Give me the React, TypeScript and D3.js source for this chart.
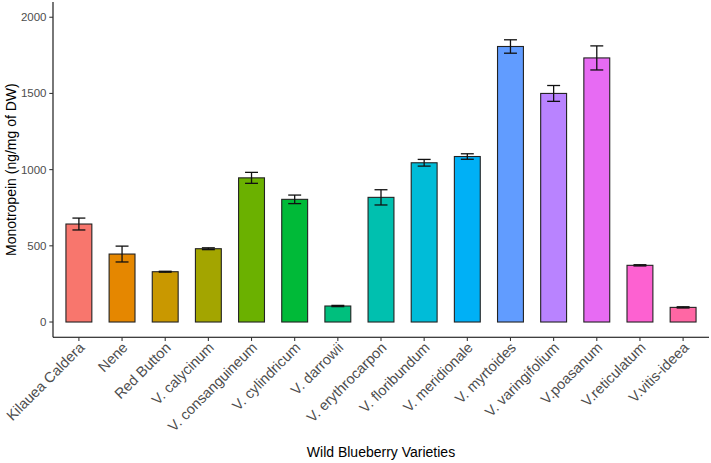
import React from "react";
import * as d3 from "d3";

const varieties = [
  "Kilauea Caldera", "Nene", "Red Button", "V. calycinum", "V. consanguineum",
  "V. cylindricum", "V. darrowii", "V. erythrocarpon", "V. floribundum", "V. meridionale",
  "V. myrtoides", "V. varingifolium", "V.poasanum", "V.reticulatum", "V.vitis-ideea"
];
const means = [643, 446, 330, 481, 946, 805, 105, 818, 1045, 1086, 1808, 1500, 1733, 372, 96];
const errors = [39, 52, 3, 6, 36, 28, 4, 50, 22, 18, 44, 52, 79, 4, 4];
const yTicks = [0, 500, 1000, 1500, 2000];
const colors = [
  "#F8766D", "#E58700", "#C99800", "#A3A500", "#6BB100", "#00BA38", "#00BF7D", "#00C0AF",
  "#00BCD8", "#00B0F6", "#619CFF", "#B983FF", "#E76BF3", "#FD61D1", "#FF67A4"
];

const width = 711;
const height = 463;
const left = 53, right = 709, top = 2, bottom = 337.25;
const font = "'Liberation Sans', Arial, sans-serif";

const x = d3.scalePoint<string>().domain(varieties).range([left, right]).padding(0.6);
const y = d3.scaleLinear().domain([-100, 2100]).range([bottom, top]);
const color = d3.scaleOrdinal<string, string>().domain(varieties).range(colors);

const App = () => {
  const step = x.step();
  const barW = step * 0.6;
  const capW = step * 0.3;
  return (
    <svg width={width} height={height} style={{ position: "absolute", left: 0, top: 0, background: "#fff" }}>
      <g>
        {varieties.map((v, i) => (
          <rect key={v} x={x(v)! - barW / 2} y={y(means[i])} width={barW} height={y(0) - y(means[i])}
            fill={color(v)} stroke="#222" strokeWidth={1.1} />
        ))}
      </g>
      <g stroke="#111" strokeWidth={1.3} fill="none">
        {varieties.map((v, i) => {
          const cx = x(v)!;
          const hi = y(means[i] + errors[i]);
          const lo = y(means[i] - errors[i]);
          return (
            <g key={v}>
              <line x1={cx} x2={cx} y1={hi} y2={lo} />
              <line x1={cx - capW / 2} x2={cx + capW / 2} y1={hi} y2={hi} />
              <line x1={cx - capW / 2} x2={cx + capW / 2} y1={lo} y2={lo} />
            </g>
          );
        })}
      </g>
      {/* axes */}
      <g stroke="#000" strokeWidth={1.07}>
        <line x1={left} x2={left} y1={top} y2={bottom} />
        <line x1={left} x2={right} y1={bottom} y2={bottom} />
      </g>
      <g stroke="#333" strokeWidth={1.07}>
        {yTicks.map(t => <line key={t} x1={left - 3.7} x2={left} y1={y(t)} y2={y(t)} />)}
        {varieties.map(v => <line key={v} x1={x(v)} x2={x(v)} y1={bottom} y2={bottom + 3.7} />)}
      </g>
      <g fontFamily={font} fontSize={11.5} fill="#4D4D4D" textAnchor="end">
        {yTicks.map(t => (
          <text key={t} x={left - 6.5} y={y(t)} dy="0.35em">{t}</text>
        ))}
      </g>
      <g fontFamily={font} fontSize={14.5} fill="#4D4D4D" textAnchor="end">
        {varieties.map(v => (
          <text key={v} transform={`translate(${x(v)! + 6.5},348.5) rotate(-45)`}>{v}</text>
        ))}
      </g>
      <text x={(left + right) / 2} y={457} textAnchor="middle" fontFamily={font} fontSize={14} fill="#000">
        Wild Blueberry Varieties
      </text>
      <text transform={`translate(16,${(top + bottom) / 2}) rotate(-90)`} textAnchor="middle"
        fontFamily={font} fontSize={14} fill="#000">
        Monotropein (ng/mg of DW)
      </text>
    </svg>
  );
};

export default App;
